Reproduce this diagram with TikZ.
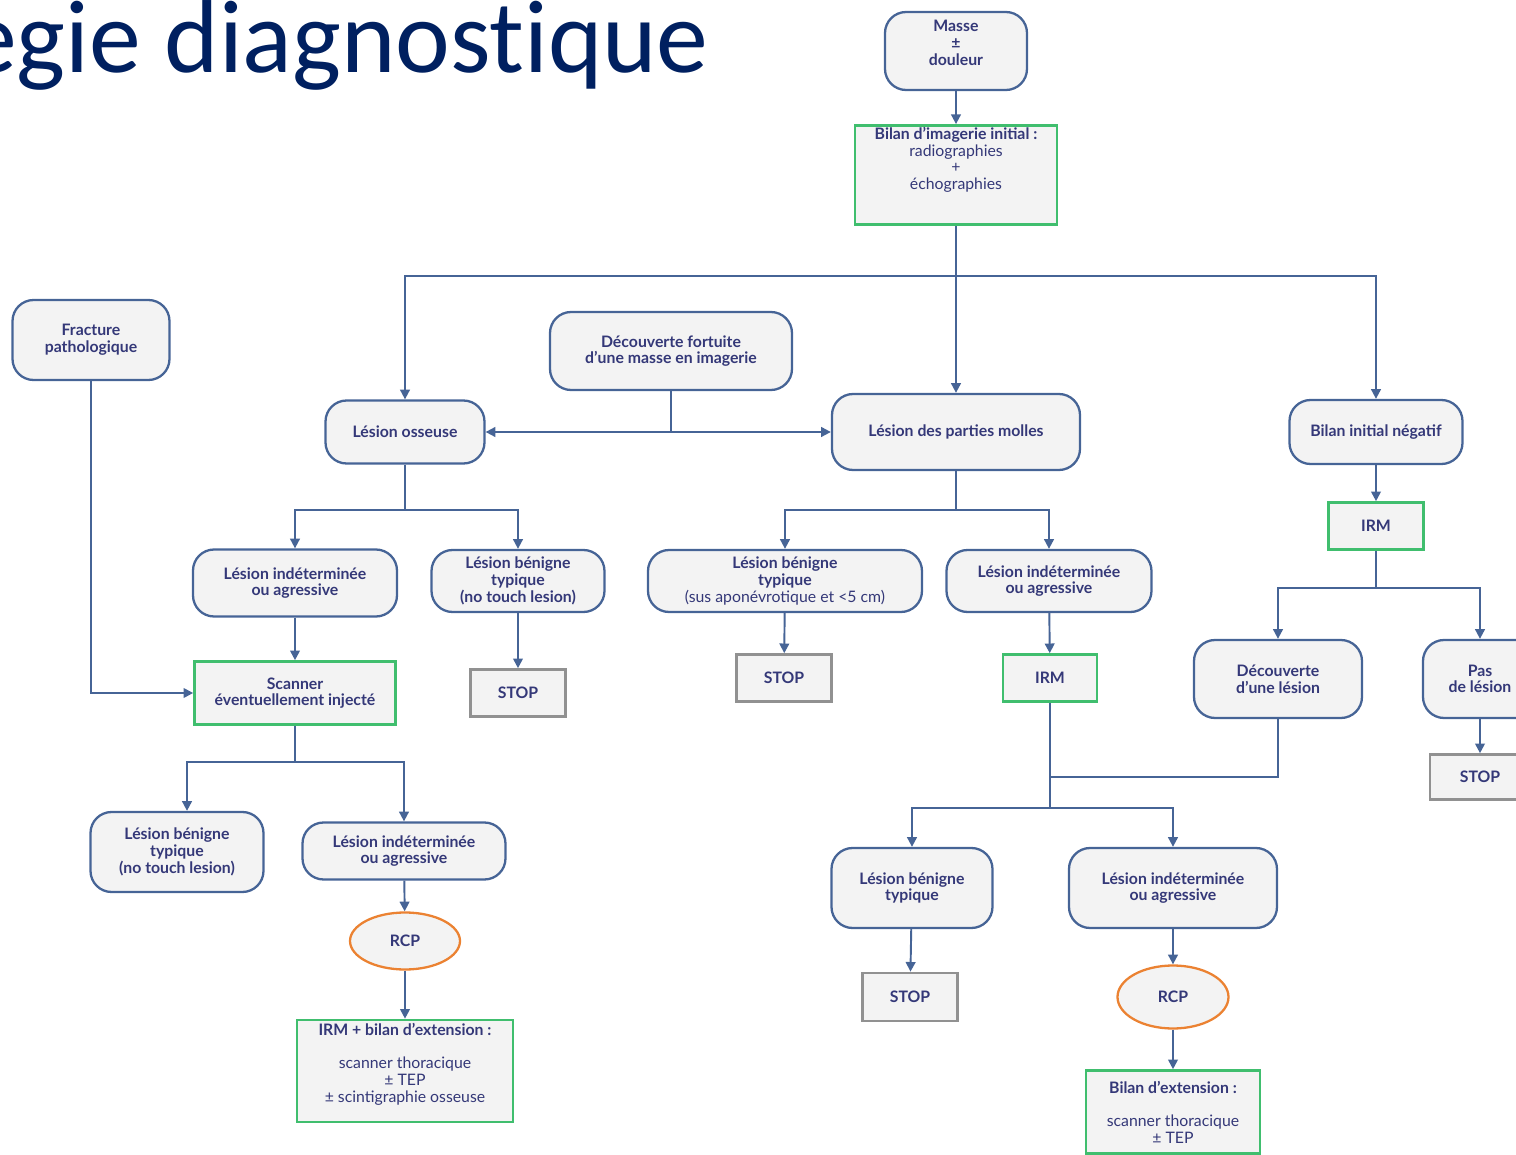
\documentclass[tikz,border=0pt]{standalone}
\usepackage{fontspec}
\setmainfont{Lato}
\newfontfamily\titlefont[Ligatures=NoCommon]{Carlito}
\usetikzlibrary{arrows.meta,shapes.geometric}

\definecolor{navy}{RGB}{0,32,96}
\definecolor{boxtext}{RGB}{52,56,120}
\definecolor{lineblue}{RGB}{70,100,150}
\definecolor{boxfill}{RGB}{243,243,243}
\definecolor{exam}{RGB}{64,190,110}
\definecolor{stopgray}{RGB}{145,145,145}
\definecolor{rcporange}{RGB}{235,130,50}

\newcommand{\lite}[1]{{\mdseries #1}}

\tikzset{
  x=0.02cm, y=-0.02cm,
  every node/.style={font=\fontsize{9}{9.5}\selectfont\bfseries, text=boxtext, align=center},
  boxsize/.style 2 args={minimum width=#1*0.02cm, minimum height=#2*0.02cm},
  rbox/.style={draw=lineblue, line width=1.3pt, fill=boxfill, rounded corners=12pt, inner sep=1pt},
  ebox/.style={draw=exam, line width=1.5pt, fill=boxfill, inner sep=1pt},
  sbox/.style={draw=stopgray, line width=1.5pt, fill=boxfill, inner sep=1pt},
  rcp/.style={ellipse, draw=rcporange, line width=1.3pt, fill=boxfill, inner sep=0pt},
  link/.style={draw=lineblue, line width=1.1pt},
  arr/.style={link, -{Triangle[length=5.5pt,width=5.5pt]}},
  arrboth/.style={link, {Triangle[length=5.5pt,width=5.5pt]}-{Triangle[length=5.5pt,width=5.5pt]}},
}

\begin{document}
\begin{tikzpicture}
  \useasboundingbox (0,0) rectangle (1516,1155);

  \node[font=\titlefont\fontsize{59}{59}\selectfont, text=navy, anchor=base west, inner sep=0pt] (title) at (-35,73) {egie diagnostique};

  % top
  \node[rbox, boxsize={142}{78}] (masse) at (956,51) {Masse\\±\\douleur\\~};
  \node[ebox, boxsize={202}{94}] (bilan) at (956,175) {Bilan d'imagerie initial :\\\lite{radiographies}\\\lite{+}\\\lite{échographies}\\~\\~};
  \node[rbox, boxsize={157}{80}] (fracture) at (91,340) {Fracture\\pathologique};
  \node[rbox, boxsize={242}{78}] (decouverte) at (671,351) {Découverte fortuite\\d'une masse en imagerie};
  \node[rbox, boxsize={159}{63}] (osseuse) at (405,432) {Lésion osseuse};
  \node[rbox, boxsize={248}{76}] (molles) at (956,432) {Lésion des parties molles};
  \node[rbox, boxsize={173}{64}] (negatif) at (1376,432) {Bilan initial négatif};
  \node[ebox, boxsize={95}{47}] (irmneg) at (1376,526) {IRM};

  % bone branch
  \node[rbox, boxsize={204}{67}] (indetos) at (295,583) {Lésion indéterminée\\ou agressive};
  \node[rbox, boxsize={173}{62}] (beninos) at (518,581) {Lésion bénigne\\typique\\(no touch lesion)};
  \node[ebox, boxsize={201}{63}] (scanner) at (295,693) {Scanner\\éventuellement injecté};
  \node[sbox, boxsize={95}{47}] (stopos) at (518,693) {STOP};
  \node[rbox, boxsize={173}{80}] (beninscan) at (177,852) {Lésion bénigne\\typique\\(no touch lesion)};
  \node[rbox, boxsize={203}{57}] (indetscan) at (404,851) {Lésion indéterminée\\ou agressive};
  \node[rcp, boxsize={110}{57}] (rcpos) at (405,941) {RCP};
  \node[ebox, boxsize={216}{102}] (extos) at (405,1071) {IRM + bilan d'extension :\\~\\\lite{scanner thoracique}\\\lite{± TEP}\\\lite{± scintigraphie osseuse}\\~};

  % soft tissue branch
  \node[rbox, boxsize={274}{62}] (beninpm) at (785,581) {Lésion bénigne\\typique\\\lite{(sus aponévrotique et <5 cm)}};
  \node[rbox, boxsize={205}{62}] (indetpm) at (1049,581) {Lésion indéterminée\\ou agressive};
  \node[sbox, boxsize={95}{47}] (stoppm) at (784,678) {STOP};
  \node[ebox, boxsize={94}{47}] (irmpm) at (1050,678) {IRM};
  \node[rbox, boxsize={161}{80}] (beninirm) at (912,888) {Lésion bénigne\\typique};
  \node[rbox, boxsize={208}{80}] (indetirm) at (1173,888) {Lésion indéterminée\\ou agressive};
  \node[sbox, boxsize={95}{48}] (stopirm) at (910,997) {STOP};
  \node[rcp, boxsize={111}{63}] (rcppm) at (1173,997) {RCP};
  \node[ebox, boxsize={174}{83}] (extpm) at (1173,1112) {Bilan d'extension :\\~\\\lite{scanner thoracique}\\\lite{± TEP}};

  % negative branch
  \node[rbox, boxsize={168}{78}] (declesion) at (1278,679) {Découverte\\d'une lésion};
  \node[rbox, boxsize={114}{78}] (paslesion) at (1480,679) {Pas\\de lésion};
  \node[sbox, boxsize={100}{45}] (stopneg) at (1480,777) {STOP};

  \coordinate (jtop) at (956,276);
  \coordinate (jos) at (405,510);
  \coordinate (jscan) at (295,762);
  \coordinate (jpm) at (956,510);
  \coordinate (jdec) at (1050,777);
  \coordinate (jirm) at (1050,808);
  \coordinate (jneg) at (1376,588);

  \draw[arr] (masse) -- (bilan);
  \draw[arr] (bilan) -- (molles);
  \draw[arr] (jtop) -| (osseuse);
  \draw[arr] (jtop) -| (negatif);
  \draw[arr] (fracture) |- (scanner);
  \draw[arrboth] (osseuse) -- (molles);
  \draw[link] (decouverte) -- (decouverte |- osseuse);

  \draw[link] (osseuse) -- (jos);
  \draw[arr] (jos) -| (indetos);
  \draw[arr] (jos) -| (beninos);
  \draw[arr] (indetos) -- (scanner);
  \draw[arr] (beninos) -- (stopos);
  \draw[link] (scanner) -- (jscan);
  \draw[arr] (jscan) -| ([xshift=5.7pt]beninscan.north);
  \draw[arr] (jscan) -| (indetscan);
  \draw[arr] (indetscan) -- (rcpos);
  \draw[arr] (rcpos) -- (extos);

  \draw[link] (molles) -- (jpm);
  \draw[arr] (jpm) -| (beninpm);
  \draw[arr] (jpm) -| (indetpm);
  \draw[arr] (beninpm) -- (stoppm);
  \draw[arr] (indetpm) -- (irmpm);
  \draw[link] (irmpm) -- (jirm);
  \draw[link] (declesion) |- (jdec);
  \draw[arr] (jirm) -| (beninirm);
  \draw[arr] (jirm) -| (indetirm);
  \draw[arr] (beninirm) -- (stopirm);
  \draw[arr] (indetirm) -- (rcppm);
  \draw[arr] (rcppm) -- (extpm);

  \draw[arr] (negatif) -- (irmneg);
  \draw[link] (irmneg) -- (jneg);
  \draw[arr] (jneg) -| (declesion);
  \draw[arr] (jneg) -| (paslesion);
  \draw[arr] (paslesion) -- (stopneg);
\end{tikzpicture}
\end{document}
